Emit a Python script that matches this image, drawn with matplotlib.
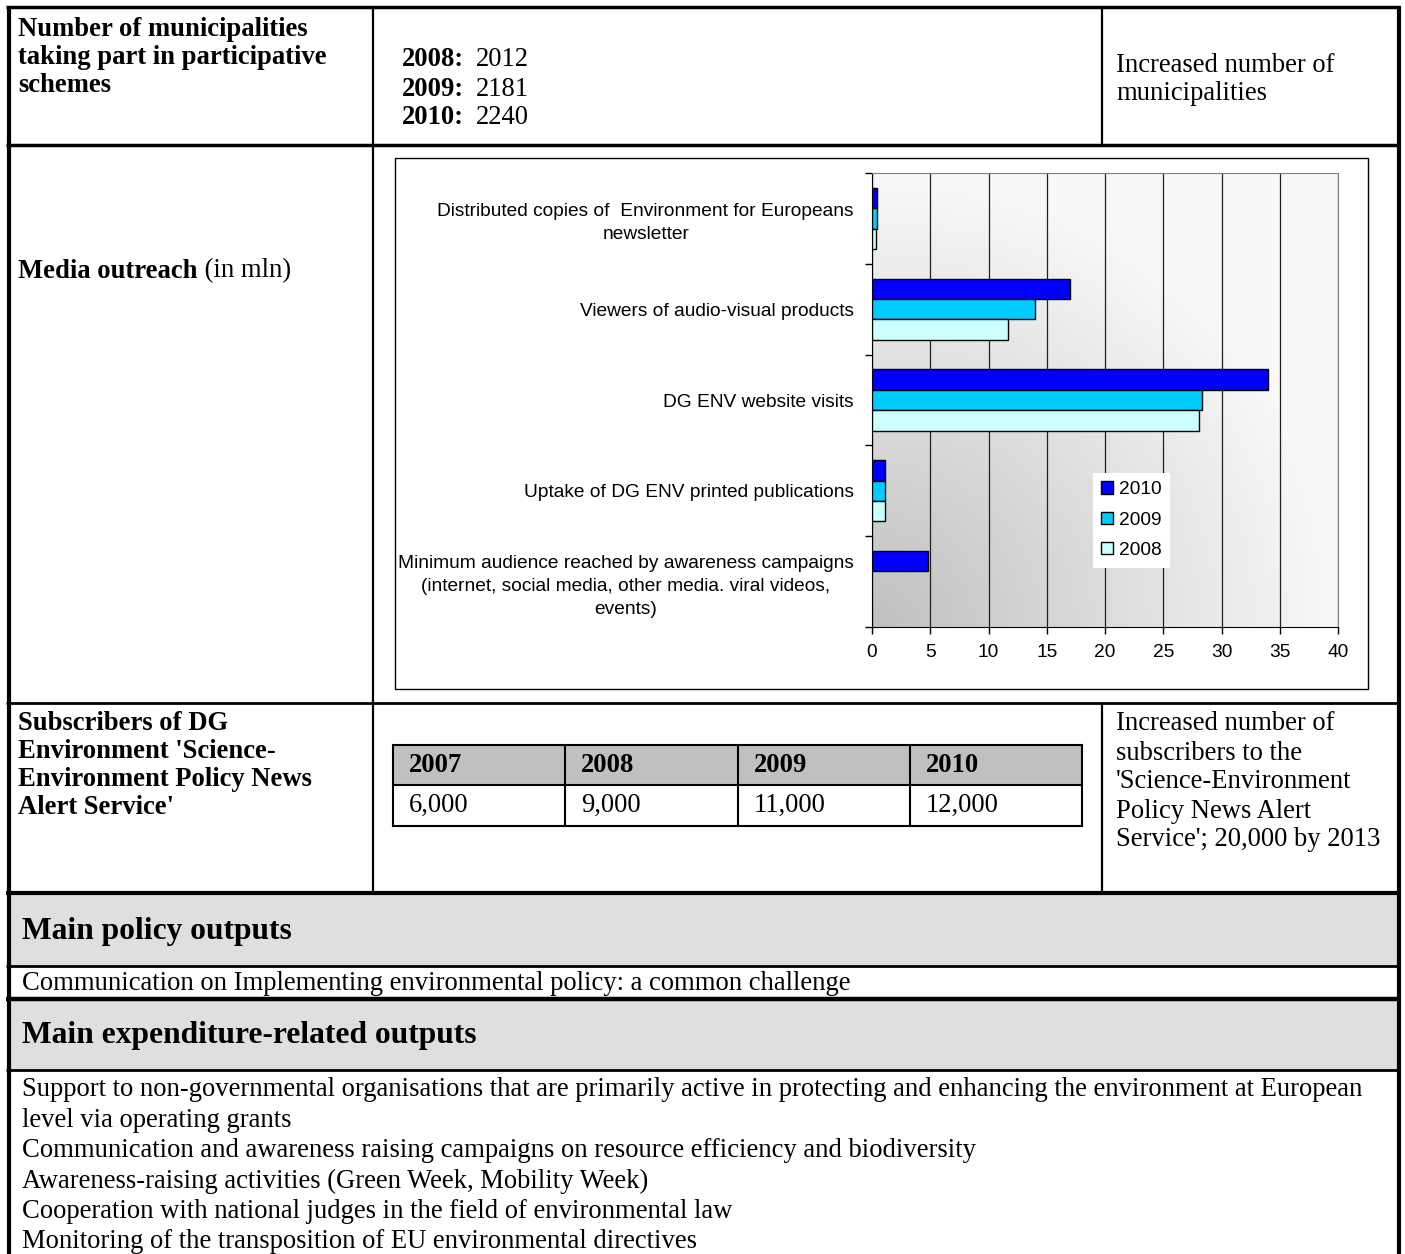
import numpy as np
import matplotlib
matplotlib.use("Agg")
import matplotlib.pyplot as plt
from matplotlib.patches import Rectangle

plt.rcParams["font.family"] = "Liberation Sans"

# Datos del grafico de difusion en medios (en millones)
categorias = [
    "Distributed copies of  Environment for Europeans\nnewsletter",
    "Viewers of audio-visual products",
    "DG ENV website visits",
    "Uptake of DG ENV printed publications",
    "Minimum audience reached by awareness campaigns\n(internet, social media, other media. viral videos,\nevents)",
]
anios = ["2010", "2009", "2008"]
v2010 = [0.4, 17.0, 34.0, 1.1, 4.8]
v2009 = [0.4, 14.0, 28.3, 1.1, np.nan]
v2008 = [0.35, 11.7, 28.1, 1.1, np.nan]
colores = ["#0000FF", "#00CCFF", "#CCFFFF"]
ticks_x = [0, 5, 10, 15, 20, 25, 30, 35, 40]

# Municipios participantes
muni_anios = ["2008:", "2009:", "2010:"]
muni_valores = [2012, 2181, 2240]

# Suscriptores del servicio de alertas
subs_anios = ["2007", "2008", "2009", "2010"]
subs_valores = [6000, 9000, 11000, 12000]

lineas_gasto = [
    "Support to non-governmental organisations that are primarily active in protecting and enhancing the environment at European",
    "level via operating grants",
    "Communication and awareness raising campaigns on resource efficiency and biodiversity",
    "Awareness-raising activities (Green Week, Mobility Week)",
    "Cooperation with national judges in the field of environmental law",
    "Monitoring of the transposition of EU environmental directives",
]

W, H = 1405, 1254
fig = plt.figure(figsize=(W / 100, H / 100), dpi=100)
doc = fig.add_axes([0, 0, 1, 1])
doc.set_xlim(0, W)
doc.set_ylim(H, 0)
doc.axis("off")

SERIF = "Liberation Serif"
TAM = 19.2
TAM_TIT = 22.7
TAM_GRAF = 13.8


def linea(x0, y0, x1, y1, lw=1.5):
    doc.plot([x0, x1], [y0, y1], color="black", lw=lw, solid_capstyle="butt")


def texto(x, y, s, bold=False, size=TAM, **kw):
    return doc.text(x, y, s, fontsize=size, family=SERIF,
                    fontweight="bold" if bold else "normal",
                    va="center", ha="left", **kw)


def parrafo(x, y, lineas, bold=False, paso=28, size=TAM):
    for i, s in enumerate(lineas):
        texto(x, y + i * paso, s, bold=bold, size=size)


# bandas grises
doc.add_patch(Rectangle((9, 895), 1389, 71, fc="#dfdfdf", ec="none"))
doc.add_patch(Rectangle((9, 1001), 1389, 69, fc="#dfdfdf", ec="none"))

# marco de la tabla
linea(6, 7, 1400, 7, lw=2.5)
linea(8.5, 6, 8.5, H, lw=3)
linea(1398.5, 6, 1398.5, H, lw=3)
linea(6, 145, 1400, 145, lw=2.5)
linea(373, 7, 373, 893, lw=1.6)
linea(1102, 7, 1102, 145, lw=1.6)
linea(1102, 703, 1102, 893, lw=1.6)
linea(6, 703, 1400, 703, lw=2)
linea(6, 893, 1400, 893, lw=3)
linea(6, 966, 1400, 966, lw=2)
linea(6, 999, 1400, 999, lw=3.2)
linea(6, 1070, 1400, 1070, lw=2)

# fila 1
parrafo(18, 29, ["Number of municipalities", "taking part in participative", "schemes"], bold=True)
for i, (a, v) in enumerate(zip(muni_anios, muni_valores)):
    texto(402, 60 + i * 29, a, bold=True)
    texto(476, 60 + i * 29, str(v))
parrafo(1116, 66, ["Increased number of", "municipalities"])

# fila 2
t = texto(18, 271, "Media outreach", bold=True)
doc.annotate(" (in mln)", xy=(1, 0.5), xycoords=t, va="center", ha="left",
             fontsize=TAM, family=SERIF)
doc.add_patch(Rectangle((395, 158), 973, 531, fill=False, ec="black", lw=1))

# fila 3
parrafo(18, 724, ["Subscribers of DG", "Environment 'Science-",
                  "Environment Policy News", "Alert Service'"], bold=True)
parrafo(1116, 724, ["Increased number of", "subscribers to the",
                    "'Science-Environment", "Policy News Alert",
                    "Service'; 20,000 by 2013"], paso=29)
col_x = [393, 565, 738, 910, 1082]
doc.add_patch(Rectangle((393, 745), 689, 40, fc="#c0c0c0", ec="none"))
doc.add_patch(Rectangle((393, 745), 689, 81, fill=False, ec="black", lw=1.5))
linea(393, 785, 1082, 785, lw=1.5)
for xc in col_x[1:-1]:
    linea(xc, 745, xc, 826, lw=1.5)
for i, (a, v) in enumerate(zip(subs_anios, subs_valores)):
    texto(col_x[i] + 16, 765, a, bold=True)
    texto(col_x[i] + 16, 805, f"{v:,}")

# secciones inferiores
texto(22, 932, "Main policy outputs", bold=True, size=TAM_TIT)
texto(22, 983, "Communication on Implementing environmental policy: a common challenge")
texto(22, 1036, "Main expenditure-related outputs", bold=True, size=TAM_TIT)
parrafo(22, 1090, lineas_gasto, paso=30.4)

# grafico de barras
x0, y0, x1, y1 = 872, 173, 1338, 627
ax = fig.add_axes([x0 / W, 1 - y1 / H, (x1 - x0) / W, (y1 - y0) / H])

n = 120
xn = np.linspace(0, 1, n)[None, :]
yn = np.linspace(1, 0, n)[:, None]
tt = np.clip(np.sqrt(xn ** 2 + yn ** 2), 0, 1)
gris = (192 + tt * 56) / 255
fondo = np.dstack([gris, gris, gris])
ax.imshow(fondo, extent=(0, 40, 4.5, -0.5), aspect="auto", zorder=0)

y = np.arange(len(categorias))
alto = 0.224
for k, (vals, col, lab) in enumerate(zip([v2010, v2009, v2008], colores, anios)):
    ax.barh(y + (k - 1) * alto, vals, height=alto, color=col,
            edgecolor="black", lw=1, label=lab, zorder=3)

ax.set_xlim(0, 40)
ax.set_ylim(4.5, -0.5)
ax.set_xticks(ticks_x)
ax.xaxis.grid(True, color="#202020", lw=0.9, zorder=1)
ax.set_axisbelow(True)
ax.set_yticks(np.arange(-0.5, 5.0, 1.0))
ax.set_yticklabels([])
ax.set_yticks(y, minor=True)
ax.set_yticklabels(categorias, minor=True)
for lab in ax.get_yticklabels(minor=True):
    lab.set_multialignment("center")
    lab.set_linespacing(1.45)
ax.tick_params(axis="y", which="minor", length=0, pad=13, labelsize=TAM_GRAF)
ax.tick_params(axis="y", which="major", length=5, width=1)
ax.tick_params(axis="x", length=5, width=1, pad=7, labelsize=TAM_GRAF)
for s in ["left", "bottom"]:
    ax.spines[s].set_color("black")
for s in ["top", "right"]:
    ax.spines[s].set_color("#808080")

ax.legend(loc="upper left", bbox_to_anchor=(0.453, 0.361), fontsize=TAM_GRAF,
          frameon=True, fancybox=False, facecolor="white", edgecolor="none",
          framealpha=1, handlelength=0.6, handleheight=0.6,
          handletextpad=0.3, labelspacing=0.7, borderpad=0.45)

fig.savefig("out.png", dpi=100)
